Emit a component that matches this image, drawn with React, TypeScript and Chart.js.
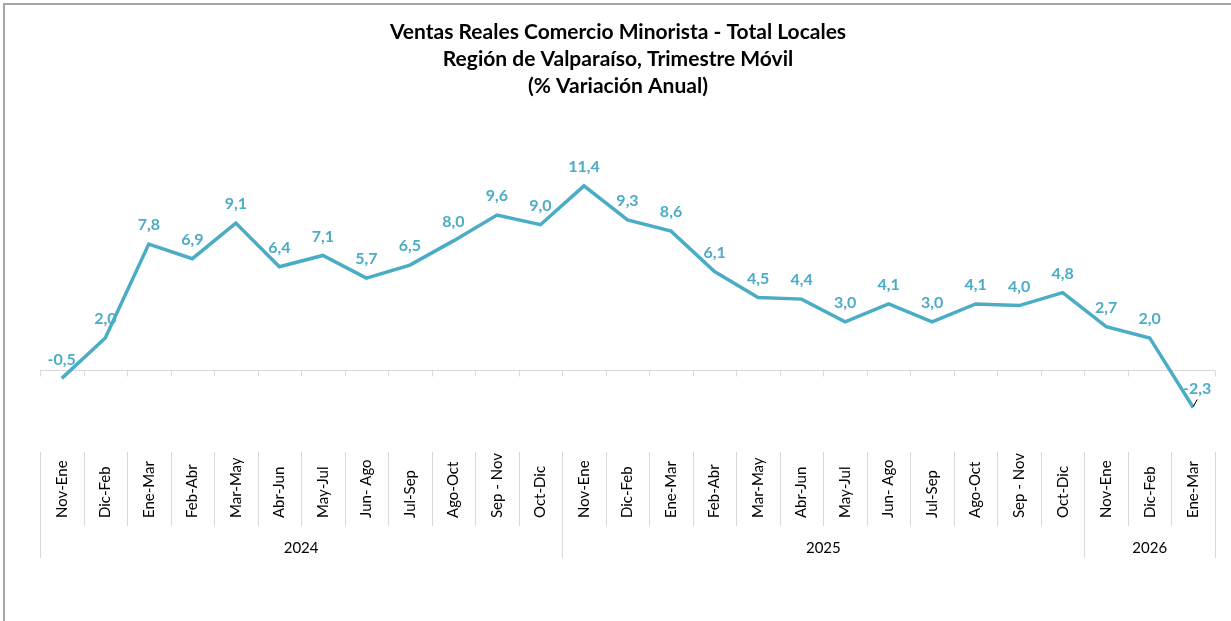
import React, { useEffect, useRef } from "react";
import { Chart, registerables } from "chart.js";

Chart.register(...registerables);

const TITLE_LINES = [
  "Ventas Reales Comercio Minorista - Total Locales",
  "Región de Valparaíso, Trimestre Móvil",
  "(% Variación Anual)",
];

const PERIODS = [
  "Nov-Ene", "Dic-Feb", "Ene-Mar", "Feb-Abr", "Mar-May", "Abr-Jun", "May-Jul", "Jun- Ago", "Jul-Sep", "Ago-Oct", "Sep - Nov", "Oct-Dic",
  "Nov-Ene", "Dic-Feb", "Ene-Mar", "Feb-Abr", "Mar-May", "Abr-Jun", "May-Jul", "Jun- Ago", "Jul-Sep", "Ago-Oct", "Sep - Nov", "Oct-Dic",
  "Nov-Ene", "Dic-Feb", "Ene-Mar",
];

const YEARS = ["2024", "2025", "2026"];
const YEAR_SPANS = [12, 12, 3];

const VALUES = [
  -0.5, 2.0, 7.8, 6.9, 9.1, 6.4, 7.1, 5.7, 6.5, 8.0, 9.6, 9.0,
  11.4, 9.3, 8.6, 6.1, 4.5, 4.4, 3.0, 4.1, 3.0, 4.1, 4.0, 4.8,
  2.7, 2.0, -2.3,
];

const LINE_COLOR = "#4BACC6";
const GRID_COLOR = "#D9D9D9";
const FONT = "Lato, 'Open Sans', sans-serif";

const fmt = (v: number) => v.toFixed(1).replace(".", ",");

const decorPlugin = {
  id: "decor",
  beforeDatasetsDraw(chart: any) {
    const ctx = chart.ctx as CanvasRenderingContext2D;
    const x = chart.scales.x;
    const y = chart.scales.y;
    const area = chart.chartArea;
    const n = PERIODS.length;
    const w = (area.right - area.left) / n;
    const y0 = Math.round(y.getPixelForValue(0)) + 0.5;

    ctx.save();
    // frame
    ctx.strokeStyle = "#A6A6A6";
    ctx.lineWidth = 2;
    ctx.beginPath();
    ctx.moveTo(4, 621);
    ctx.lineTo(4, 4);
    ctx.lineTo(1231, 4);
    ctx.stroke();

    // title
    ctx.fillStyle = "#000";
    ctx.font = `bold 21px ${FONT}`;
    ctx.textAlign = "center";
    ctx.textBaseline = "middle";
    const tys = [32, 59, 86];
    TITLE_LINES.forEach((t, i) => ctx.fillText(t, 618, tys[i]));

    // zero axis with ticks
    ctx.strokeStyle = GRID_COLOR;
    ctx.lineWidth = 1;
    ctx.beginPath();
    ctx.moveTo(area.left, y0);
    ctx.lineTo(area.right, y0);
    for (let k = 0; k <= n; k++) {
      const bx = Math.round(area.left + k * w) + 0.5;
      ctx.moveTo(bx, y0);
      ctx.lineTo(bx, y0 + 6);
    }
    ctx.stroke();

    // category table
    const boundaries = new Set<number>([0]);
    let acc = 0;
    YEAR_SPANS.forEach((s) => {
      acc += s;
      boundaries.add(acc);
    });
    ctx.beginPath();
    for (let k = 0; k <= n; k++) {
      const bx = Math.round(area.left + k * w) + 0.5;
      ctx.moveTo(bx, 452);
      ctx.lineTo(bx, boundaries.has(k) ? 558 : 526);
    }
    ctx.stroke();

    ctx.fillStyle = "#000";
    ctx.font = `15px ${FONT}`;
    PERIODS.forEach((p, i) => {
      const cx = x.getPixelForValue(i);
      ctx.save();
      ctx.translate(cx, 518);
      ctx.rotate(-Math.PI / 2);
      ctx.textAlign = "left";
      ctx.textBaseline = "middle";
      ctx.fillText(p, 0, 0);
      ctx.restore();
    });

    ctx.textAlign = "center";
    ctx.textBaseline = "middle";
    let start = 0;
    YEARS.forEach((yr, gi) => {
      const end = start + YEAR_SPANS[gi];
      const cx = area.left + ((start + end) / 2) * w;
      ctx.fillText(yr, cx, 548);
      start = end;
    });
    ctx.restore();
  },
  afterDatasetsDraw(chart: any) {
    const ctx = chart.ctx as CanvasRenderingContext2D;
    const x = chart.scales.x;
    const y = chart.scales.y;
    ctx.save();
    ctx.fillStyle = LINE_COLOR;
    ctx.font = `bold 16px ${FONT}`;
    ctx.textAlign = "center";
    ctx.textBaseline = "middle";
    VALUES.forEach((v, i) => {
      const px = x.getPixelForValue(i);
      const py = y.getPixelForValue(v);
      const last = i === VALUES.length - 1;
      ctx.fillText(fmt(v), px + (last ? 4 : 0), py - 19);
      if (last) {
        ctx.strokeStyle = "#000";
        ctx.lineWidth = 1;
        ctx.beginPath();
        ctx.moveTo(px, py - 1);
        ctx.lineTo(px + 4, py - 8);
        ctx.stroke();
      }
    });
    ctx.restore();
  },
};

export default function App() {
  const ref = useRef<HTMLCanvasElement | null>(null);
  useEffect(() => {
    if (!ref.current) return;
    const chart = new Chart(ref.current, {
      type: "line",
      data: {
        labels: PERIODS,
        datasets: [
          {
            data: VALUES,
            borderColor: LINE_COLOR,
            backgroundColor: LINE_COLOR,
            borderWidth: 3.5,
            pointRadius: 0,
            tension: 0,
          },
        ],
      },
      options: {
        responsive: false,
        animation: false,
        layout: { padding: { left: 40, right: 16, top: 160, bottom: 186 } },
        scales: {
          x: { type: "category", offset: true, display: false },
          y: { min: -4, max: 13, display: false },
        },
        plugins: {
          legend: { display: false },
          tooltip: { enabled: false },
          title: { display: false },
        },
      },
      plugins: [decorPlugin],
    });
    return () => chart.destroy();
  }, []);
  return (
    <div style={{ position: "fixed", left: 0, top: 0, width: 1231, height: 621, background: "#fff" }}>
      <canvas ref={ref} width={1231} height={621} style={{ display: "block" }} />
    </div>
  );
}
